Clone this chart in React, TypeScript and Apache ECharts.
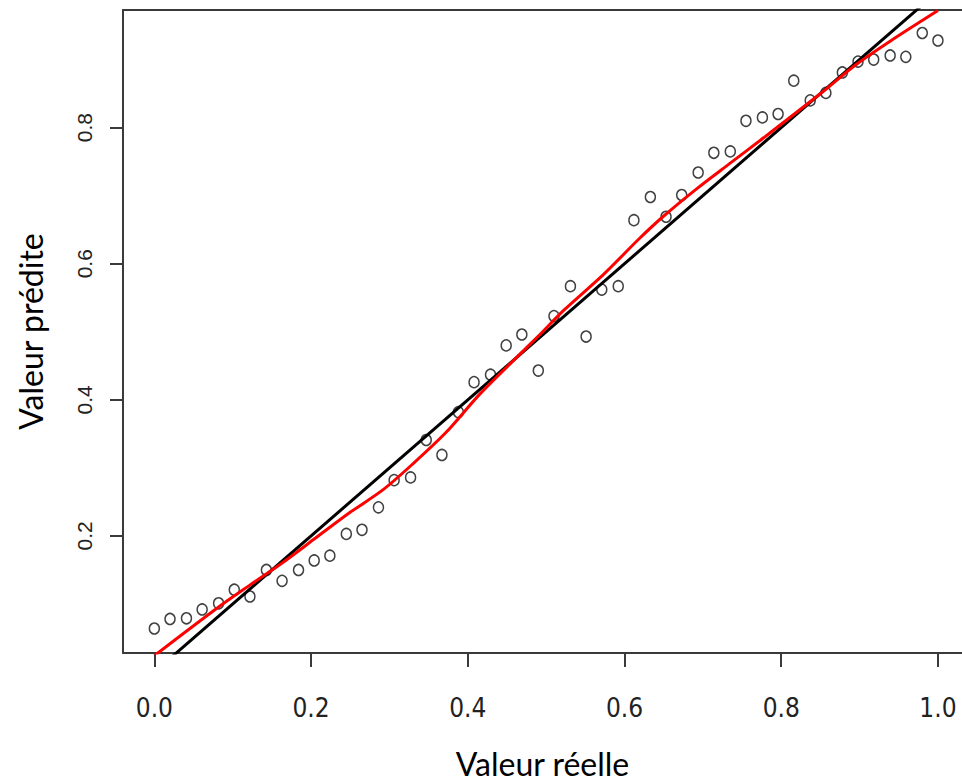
import React, { useEffect, useRef } from "react";
import * as echarts from "echarts";

const reelle = [0.000, 0.020, 0.041, 0.061, 0.082, 0.102, 0.122, 0.143, 0.163, 0.184, 0.204, 0.224, 0.245, 0.265, 0.286, 0.306, 0.327, 0.347, 0.367, 0.388, 0.408, 0.429, 0.449, 0.469, 0.490, 0.510, 0.531, 0.551, 0.571, 0.592, 0.612, 0.633, 0.653, 0.673, 0.694, 0.714, 0.735, 0.755, 0.776, 0.796, 0.816, 0.837, 0.857, 0.878, 0.898, 0.918, 0.939, 0.959, 0.980, 1.000];
const predite = [0.064, 0.078, 0.079, 0.092, 0.101, 0.121, 0.111, 0.150, 0.134, 0.150, 0.164, 0.171, 0.203, 0.209, 0.242, 0.282, 0.286, 0.341, 0.319, 0.382, 0.426, 0.437, 0.480, 0.496, 0.443, 0.523, 0.567, 0.493, 0.562, 0.567, 0.664, 0.698, 0.669, 0.701, 0.734, 0.763, 0.765, 0.810, 0.815, 0.820, 0.869, 0.840, 0.851, 0.881, 0.897, 0.900, 0.906, 0.904, 0.939, 0.928];

const lissageX = [0, 0.079, 0.121, 0.164, 0.207, 0.249, 0.292, 0.330, 0.373, 0.415, 0.462, 0.492, 0.522, 0.573, 0.619, 0.649, 0.692, 0.734, 0.773, 0.849, 0.896, 0.939, 1.0];
const lissageY = [0.024, 0.093, 0.127, 0.161, 0.198, 0.234, 0.268, 0.306, 0.353, 0.408, 0.462, 0.496, 0.531, 0.584, 0.637, 0.669, 0.710, 0.747, 0.781, 0.849, 0.893, 0.927, 0.972];

const xTicks = [0, 0.2, 0.4, 0.6, 0.8, 1.0];
const yTicks = [0.2, 0.4, 0.6, 0.8];

const abIntercept = 0;
const abSlope = 1;

const X_MIN = -0.04;
const X_MAX = 1.0307;
const Y_MIN = 0.028;
const Y_MAX = 0.9728;

export default function App() {
  const ref = useRef<HTMLDivElement>(null);
  useEffect(() => {
    if (!ref.current) return;
    const chart = echarts.init(ref.current, null, { renderer: "svg", width: 962, height: 784 });
    const frame = { color: "#3a3a3a", width: 2 };
    const abX = [X_MIN - 0.1, X_MAX + 0.1];
    chart.setOption({
      animation: false,
      backgroundColor: "#ffffff",
      grid: { left: 123, width: 839, top: 10, height: 648, containLabel: false },
      xAxis: [
        {
          type: "value",
          min: X_MIN,
          max: X_MAX,
          position: "bottom",
          axisLine: { show: true, onZero: false, lineStyle: frame },
          axisTick: { show: true, length: 14, inside: false, customValues: xTicks, lineStyle: frame },
          axisLabel: {
            customValues: xTicks,
            formatter: (v: number) => v.toFixed(1),
            fontFamily: "'Liberation Sans Narrow', 'DejaVu Sans Condensed', 'Arial Narrow', sans-serif",
            fontSize: 26,
            color: "#222",
            margin: 42,
          },
          splitLine: { show: false },
          name: "Valeur réelle",
          nameLocation: "middle",
          nameGap: 94,
          nameTextStyle: { fontFamily: "Lato, 'Open Sans', sans-serif", fontSize: 32, color: "#000" },
        },
        {
          type: "value",
          min: X_MIN,
          max: X_MAX,
          position: "top",
          axisLine: { show: true, onZero: false, lineStyle: frame },
          axisTick: { show: false },
          axisLabel: { show: false },
          splitLine: { show: false },
        },
      ],
      yAxis: {
        type: "value",
        min: Y_MIN,
        max: Y_MAX,
        axisLine: { show: true, onZero: false, lineStyle: frame },
        axisTick: { show: true, length: 13, customValues: yTicks, lineStyle: frame },
        axisLabel: {
          customValues: yTicks,
          formatter: (v: number) => v.toFixed(1),
          rotate: 90,
          fontFamily: "'Liberation Sans', Arial, sans-serif",
          fontSize: 21,
          color: "#222",
          margin: 28,
        },
        splitLine: { show: false },
        name: "Valeur prédite",
        nameLocation: "middle",
        nameGap: 77,
        nameRotate: 90,
        nameTextStyle: { fontFamily: "Lato, 'Open Sans', sans-serif", fontSize: 32, color: "#000" },
      },
      series: [
        {
          type: "scatter",
          data: reelle.map((x, i) => [x, predite[i]]),
          symbol: "circle",
          symbolSize: [10, 11],
          itemStyle: { color: "rgba(0,0,0,0)", borderColor: "#111", borderWidth: 1.5 },
          z: 2,
        },
        {
          type: "line",
          data: abX.map((x) => [x, abIntercept + abSlope * x]),
          showSymbol: false,
          clip: true,
          lineStyle: { color: "#000", width: 3 },
          z: 3,
        },
        {
          type: "line",
          data: lissageX.map((x, i) => [x, lissageY[i]]),
          showSymbol: false,
          smooth: 0.3,
          clip: true,
          lineStyle: { color: "#ff0000", width: 3 },
          z: 4,
        },
      ],
    });
    return () => chart.dispose();
  }, []);
  return (
    <div
      ref={ref}
      style={{ position: "absolute", left: 0, top: 0, width: 962, height: 784, background: "#fff" }}
    />
  );
}
